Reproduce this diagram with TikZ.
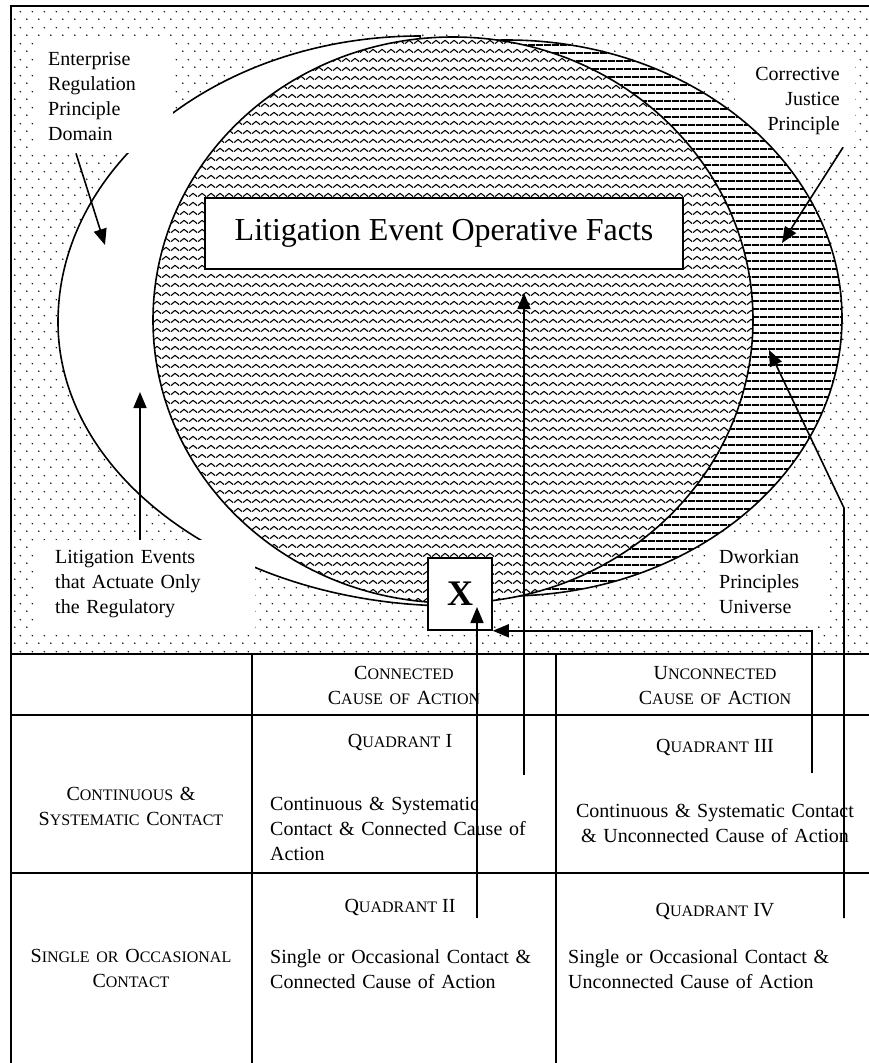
\documentclass[tikz,border=0pt]{standalone}
\usepackage{fontspec}
\setmainfont{Liberation Serif}
\usetikzlibrary{arrows.meta,patterns.meta,calc}

\newcommand\sm[1]{{\fontsize{16}{25}\selectfont #1}}

\tikzdeclarepattern{name=dotgrid, type=uncolored,
  bottom left={(0pt,0pt)}, top right={(12pt,16pt)}, tile size={(12pt,16pt)},
  code={\fill (3pt,4pt) circle [radius=0.85pt]; \fill (9pt,12pt) circle [radius=0.85pt];}}
\tikzdeclarepattern{name=waverows, type=uncolored,
  bottom left={(0pt,0pt)}, top right={(9pt,8.5pt)}, tile size={(9pt,8.5pt)},
  code={\draw[line width=1.15pt, line join=round] (0pt,2.5pt) -- (4.5pt,6pt) -- (9pt,2.5pt);}}
\tikzdeclarepattern{name=hlines, type=uncolored,
  bottom left={(0pt,0pt)}, top right={(8pt,7.5pt)}, tile size={(8pt,7.5pt)},
  code={\fill (0pt,0pt) rectangle (8pt,1.9pt);}}

\begin{document}
\begin{tikzpicture}[x=1pt,y=-1pt,
    txt/.style={font=\fontsize{20}{25}\selectfont, inner sep=0pt},
    lbl/.style={txt, fill=white, inner ysep=0pt},
    arr/.style={line width=1.6, -{Triangle[length=16pt,width=13pt]}},
    wavefill/.style={draw, line width=1.6, preaction={fill=white}, pattern=waverows},
    hatchfill/.style={draw, line width=1.6, preaction={fill=white}, pattern=hlines},
    tbl/.style={line width=2}]
  \useasboundingbox (0,0) rectangle (869,1063);
  \fill[white] (0,0) rectangle (869,1063);
  \fill[pattern=dotgrid] (11,6) rectangle (876,654);

  % labels lying under the ellipses
  \node[lbl, anchor=north east, minimum width=120, minimum height=92, text width=90,
    inner xsep=15, align=right] (corr) at (855,55) {Corrective\\Justice\\Principle};
  \node[lbl, anchor=north west, minimum width=121, minimum height=86, text width=97,
    inner xsep=12, align=left] (dwork) at (707,538) {Dworkian\\Principles\\Universe};

  % regulatory domain, corrective justice, operative facts
  \filldraw[fill=white, line width=1.6] (420,36)
    arc[start angle=270, end angle=180, x radius=362, y radius=286]
    arc[start angle=180, end angle=90, x radius=397, y radius=284] -- cycle;
  \path[hatchfill] (507,318) ellipse[x radius=335, y radius=278];
  \path[wavefill] (453,320) ellipse[x radius=300, y radius=283];

  \node[lbl, anchor=north west, minimum width=138, minimum height=113, text width=112,
    inner xsep=13, align=left] (ent) at (35,40) {Enterprise\\Regulation\\Principle\\Domain};
  \node[lbl, anchor=north west, minimum width=218, minimum height=88, text width=182,
    inner xsep=18, align=left] (lev) at (37,540)
    {Litigation Events\\that Actuate Only\\the Regulatory};

  \node[draw, fill=white, line width=1.6, minimum width=478, minimum height=71,
    font=\fontsize{32}{38}\selectfont] (facts) at (444,233.5) {Litigation Event Operative Facts};
  \node[draw, fill=white, line width=1.6, minimum width=64, minimum height=72,
    font=\fontsize{36}{40}\selectfont\bfseries] (xbox) at (460,594) {X};

  % table
  \draw[tbl] (11,1070) -- (11,6) -- (876,6);
  \draw[tbl] (11,654) -- (876,654);
  \draw[tbl] (11,715) -- (876,715);
  \draw[tbl] (11,873) -- (876,873);
  \draw[tbl] (252,654) -- (252,1070);
  \draw[tbl] (556,654) -- (556,1070);

  \node[txt, text width=280, align=center, anchor=base] (hdrc) at (404,679)
    {C\sm{ONNECTED}\\C\sm{AUSE OF} A\sm{CTION}};
  \node[txt, text width=300, align=center, anchor=base] (hdru) at (715,679)
    {U\sm{NCONNECTED}\\C\sm{AUSE OF} A\sm{CTION}};
  \node[txt, text width=230, align=center, anchor=base] (rowcs) at (131,800)
    {C\sm{ONTINUOUS} \&\\S\sm{YSTEMATIC} C\sm{ONTACT}};
  \node[txt, text width=230, align=center, anchor=base] (rowso) at (131,962)
    {S\sm{INGLE OR} O\sm{CCASIONAL}\\C\sm{ONTACT}};
  \node[txt, anchor=base] (quadi) at (400,747) {Q\sm{UADRANT} I};
  \node[txt, anchor=base] (quadiii) at (715,752) {Q\sm{UADRANT} III};
  \node[txt, anchor=base] (quadii) at (400,912) {Q\sm{UADRANT} II};
  \node[txt, anchor=base] (quadiv) at (715,916) {Q\sm{UADRANT} IV};
  \node[txt, text width=268, align=left, anchor=base west] (txti) at (270,810)
    {Continuous \& Systematic\\Contact \& Connected Cause of\\Action};
  \node[txt, text width=300, align=center, anchor=base] (txtiii) at (715,817)
    {Continuous \& Systematic Contact\\\& Unconnected Cause of Action};
  \node[txt, text width=268, align=left, anchor=base west] (txtii) at (270,963)
    {Single or Occasional Contact \&\\Connected Cause of Action};
  \node[txt, text width=290, align=left, anchor=base west] (txtiv) at (568,963)
    {Single or Occasional Contact \&\\Unconnected Cause of Action};

  % arrows
  \coordinate (tipent) at (105,245);
  \coordinate (tipcorr) at (782,243);
  \coordinate (tiplev) at (140,392);
  \coordinate (tipi) at (524,293);
  \coordinate (tipii) at (477,607);
  \coordinate (tipiv) at (769,350);
  \coordinate (qi) at (524,775);
  \coordinate (qii) at (477,918);
  \coordinate (qiii) at (812,773);
  \coordinate (qiv) at (844,918);
  \draw[arr] ($(ent.south west)+(41,0)$) -- (tipent);
  \draw[arr] ($(corr.south east)+(-12,0)$) -- (tipcorr);
  \draw[arr] ($(lev.north west)+(103,0)$) -- (tiplev);
  \draw[arr] (qi) -- (tipi);
  \draw[arr] (qii) -- (tipii);
  \draw[arr] (qiii) |- (xbox.south east);
  \draw[arr] (qiv) -- (844,508) -- (tipiv);
\end{tikzpicture}
\end{document}
